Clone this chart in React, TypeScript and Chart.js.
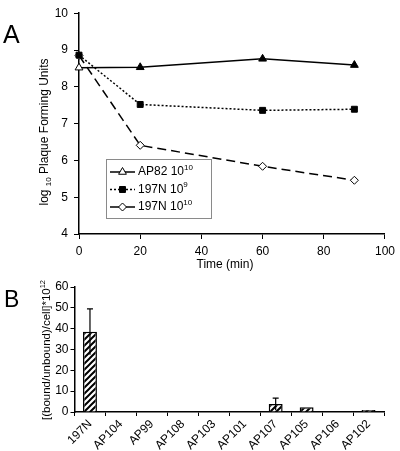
import React, { useEffect, useRef } from "react";
import { Chart, registerables } from "chart.js";
Chart.register(...registerables);

// ---- Panel A data ----
const times = [0, 20, 60, 90];
const ap82 = [8.52, 8.53, 8.76, 8.59];
const n197e9 = [8.86, 7.52, 7.36, 7.39];
const n197e10 = [8.85, 6.41, 5.84, 5.46];
const legendBase = ["AP82 10", "197N 10", "197N 10"];
const legendExp = ["10", "9", "10"];
const timeTicks = [0, 20, 40, 60, 80, 100];
const logTicks = [4, 5, 6, 7, 8, 9, 10];

// ---- Panel B data ----
const strains = ["197N", "AP104", "AP99", "AP108", "AP103", "AP101", "AP107", "AP105", "AP106", "AP102"];
const binding = [38.5, 0.2, 0.2, 0.2, 0.2, 0.3, 3.8, 2.3, 0.3, 1.0];
const bindingErr = [11, 0, 0, 0, 0, 0, 2.9, 0, 0, 0];
const bindingTicks = [0, 10, 20, 30, 40, 50, 60];

const FONT = "'Liberation Sans', Arial, sans-serif";

function drawPointMarker(ctx: CanvasRenderingContext2D, style: string, x: number, y: number, r: number, fill: string) {
  ctx.save();
  ctx.fillStyle = fill;
  ctx.strokeStyle = "#000";
  ctx.lineWidth = 1;
  ctx.beginPath();
  if (style === "triangle") {
    ctx.moveTo(x, y - r);
    ctx.lineTo(x + r * 0.866, y + r * 0.5);
    ctx.lineTo(x - r * 0.866, y + r * 0.5);
    ctx.closePath();
  } else if (style === "rect") {
    const s = r * Math.SQRT1_2;
    ctx.rect(x - s, y - s, 2 * s, 2 * s);
  } else {
    ctx.moveTo(x, y - r);
    ctx.lineTo(x + r, y);
    ctx.lineTo(x, y + r);
    ctx.lineTo(x - r, y);
    ctx.closePath();
  }
  ctx.fill();
  ctx.stroke();
  ctx.restore();
}

function makeHatch(): CanvasPattern | string {
  const n = 6;
  const c = document.createElement("canvas");
  c.width = n;
  c.height = n;
  const g = c.getContext("2d");
  if (!g) return "#fff";
  g.fillStyle = "#fff";
  g.fillRect(0, 0, n, n);
  g.strokeStyle = "#000";
  g.lineWidth = 2;
  g.beginPath();
  g.moveTo(-1, n + 1);
  g.lineTo(n + 1, -1);
  g.moveTo(-1, 1);
  g.lineTo(1, -1);
  g.moveTo(n - 1, n + 1);
  g.lineTo(n + 1, n - 1);
  g.stroke();
  const p = g.createPattern(c, "repeat");
  return p || "#fff";
}

const axisCommon = (min: number, max: number, step: number, tickLength: number, pad: number) => ({
  min,
  max,
  ticks: { stepSize: step, color: "#000", font: { family: FONT, size: 12 }, padding: pad },
  grid: { display: true, drawOnChartArea: false, drawTicks: true, tickLength, color: "#000", lineWidth: 1 },
  border: { display: true, color: "#000", width: 1.5 },
});

const A_HEIGHT = 285; // canvas height of panel A
const B_TOP = 274; // canvas offset of panel B

export default function App() {
  const topRef = useRef<HTMLCanvasElement | null>(null);
  const botRef = useRef<HTMLCanvasElement | null>(null);

  useEffect(() => {
    document.body.style.margin = "0";
    const charts: Chart[] = [];

    if (topRef.current) {
      const topPlugin = {
        id: "panelA",
        afterDraw(chart: any) {
          const ctx: CanvasRenderingContext2D = chart.ctx;
          ctx.save();
          ctx.fillStyle = "#000";
          ctx.font = `25px ${FONT}`;
          ctx.textBaseline = "alphabetic";
          ctx.textAlign = "left";
          ctx.fillText("A", 3, 43);
          ctx.font = `12px ${FONT}`;
          ctx.textAlign = "center";
          ctx.textBaseline = "middle";
          ctx.fillText("Time (min)", 225, 265);
          ctx.save();
          ctx.translate(48, 132);
          ctx.rotate(-Math.PI / 2);
          ctx.textAlign = "left";
          ctx.textBaseline = "alphabetic";
          ctx.font = `12px ${FONT}`;
          const p1 = "log ";
          const p3 = " Plaque Forming Units";
          const w1 = ctx.measureText(p1).width;
          const w3 = ctx.measureText(p3).width;
          ctx.font = `8px ${FONT}`;
          const w2 = ctx.measureText("10").width;
          const total = w1 + w2 + w3;
          let xx = -total / 2;
          ctx.font = `12px ${FONT}`;
          ctx.fillText(p1, xx, 0);
          xx += w1;
          ctx.font = `8px ${FONT}`;
          ctx.fillText("10", xx, 3);
          xx += w2;
          ctx.font = `12px ${FONT}`;
          ctx.fillText(p3, xx, 0);
          ctx.restore();

          const bx = 106, by = 159, bw = 105, bh = 59;
          ctx.fillStyle = "#fff";
          ctx.fillRect(bx, by, bw, bh);
          ctx.strokeStyle = "#8a8a8a";
          ctx.lineWidth = 1;
          ctx.strokeRect(bx + 0.5, by + 0.5, bw, bh);
          const rows = [172, 189.5, 207];
          const styles = ["triangle", "rect", "rectRot"];
          const fills = ["#fff", "#000", "#fff"];
          const dashes = [[], [2, 2], []];
          const radii = [4.5, 4.2, 4];
          rows.forEach((ry, i) => {
            ctx.save();
            ctx.strokeStyle = "#000";
            ctx.lineWidth = 1.5;
            ctx.setLineDash(dashes[i]);
            ctx.beginPath();
            ctx.moveTo(110, ry);
            ctx.lineTo(135, ry);
            ctx.stroke();
            ctx.restore();
            drawPointMarker(ctx, styles[i], 122.5, ry, radii[i], fills[i]);
            ctx.fillStyle = "#000";
            ctx.textAlign = "left";
            ctx.textBaseline = "middle";
            ctx.font = `12px ${FONT}`;
            ctx.fillText(legendBase[i], 138, ry);
            const wb = ctx.measureText(legendBase[i]).width;
            ctx.font = `8px ${FONT}`;
            ctx.fillText(legendExp[i], 138 + wb, ry - 4.5);
          });
          ctx.restore();
        },
      };

      const c1 = new Chart(topRef.current, {
        type: "line",
        data: {
          datasets: [
            {
              label: legendBase[0] + legendExp[0],
              data: times.map((t, i) => ({ x: t, y: ap82[i] })),
              borderColor: "#000",
              borderWidth: 1.5,
              pointStyle: "triangle",
              pointRadius: 4.5,
              pointBackgroundColor: ["#fff", "#000", "#000", "#000"],
              pointBorderColor: "#000",
              pointBorderWidth: 1,
              tension: 0,
              clip: false,
            },
            {
              label: legendBase[1] + legendExp[1],
              data: times.map((t, i) => ({ x: t, y: n197e9[i] })),
              borderColor: "#000",
              borderWidth: 1.5,
              borderDash: [2, 2],
              pointStyle: "rect",
              pointRadius: 4.2,
              pointBackgroundColor: "#000",
              pointBorderColor: "#000",
              pointBorderWidth: 1,
              tension: 0,
              clip: false,
            },
            {
              label: legendBase[2] + legendExp[2],
              data: times.map((t, i) => ({ x: t, y: n197e10[i] })),
              borderColor: "#000",
              borderWidth: 1.5,
              borderDash: [9, 5],
              pointStyle: "rectRot",
              pointRadius: 4,
              pointBackgroundColor: "#fff",
              pointBorderColor: "#000",
              pointBorderWidth: 1,
              tension: 0,
              clip: false,
            },
          ],
        } as any,
        options: {
          responsive: false,
          animation: false,
          layout: { padding: { top: 9, right: 14, left: 0, bottom: 0 } },
          plugins: { legend: { display: false }, tooltip: { enabled: false } },
          scales: {
            x: {
              type: "linear",
              ...axisCommon(timeTicks[0], timeTicks[timeTicks.length - 1], 20, 5, 5),
              afterFit: (s: any) => { s.height = 51; },
            },
            y: {
              type: "linear",
              ...axisCommon(logTicks[0], logTicks[logTicks.length - 1], 1, 5, 6),
              afterFit: (s: any) => { s.width = 79; },
            },
          },
        } as any,
        plugins: [topPlugin],
      });
      charts.push(c1);
    }

    if (botRef.current) {
      const botPlugin = {
        id: "panelB",
        afterDatasetsDraw(chart: any) {
          const ctx: CanvasRenderingContext2D = chart.ctx;
          const meta = chart.getDatasetMeta(0);
          const ys = chart.scales.y;
          ctx.save();
          ctx.strokeStyle = "#000";
          ctx.lineWidth = 1.2;
          bindingErr.forEach((e, i) => {
            if (!e) return;
            const x = meta.data[i].x;
            const yt = ys.getPixelForValue(binding[i] + e);
            const yb = ys.getPixelForValue(Math.max(0, binding[i] - e));
            ctx.beginPath();
            ctx.moveTo(x, yb);
            ctx.lineTo(x, yt);
            ctx.moveTo(x - 3, yt);
            ctx.lineTo(x + 3, yt);
            ctx.stroke();
          });
          ctx.restore();
        },
        afterDraw(chart: any) {
          const ctx: CanvasRenderingContext2D = chart.ctx;
          ctx.save();
          ctx.fillStyle = "#000";
          ctx.font = `23px ${FONT}`;
          ctx.textAlign = "left";
          ctx.textBaseline = "alphabetic";
          ctx.fillText("B", 4, 307 - B_TOP);
          ctx.save();
          ctx.translate(50, 350 - B_TOP);
          ctx.rotate(-Math.PI / 2);
          ctx.font = `11.5px ${FONT}`;
          const main = "[(bound/unbound)/cell]*10";
          const wm = ctx.measureText(main).width;
          ctx.font = `7.5px ${FONT}`;
          const ws = ctx.measureText("12").width;
          const x0 = -(wm + ws) / 2;
          ctx.font = `11.5px ${FONT}`;
          ctx.fillText(main, x0, 0);
          ctx.font = `7.5px ${FONT}`;
          ctx.fillText("12", x0 + wm, -5);
          ctx.restore();
          ctx.restore();
        },
      };

      const c2 = new Chart(botRef.current, {
        type: "bar",
        data: {
          labels: strains,
          datasets: [
            {
              label: "binding",
              data: binding,
              backgroundColor: makeHatch(),
              borderColor: "#000",
              borderWidth: 1.5,
              barPercentage: 0.45,
              categoryPercentage: 1,
            },
          ],
        } as any,
        options: {
          responsive: false,
          animation: false,
          layout: { padding: { top: 287 - B_TOP, right: 16, left: 0, bottom: 0 } },
          plugins: { legend: { display: false }, tooltip: { enabled: false } },
          scales: {
            x: {
              ticks: {
                color: "#000",
                font: { family: FONT, size: 12 },
                maxRotation: 45,
                minRotation: 45,
                autoSkip: false,
                padding: 1,
              },
              grid: { display: true, offset: true, drawOnChartArea: false, drawTicks: true, tickLength: 4, color: "#000", lineWidth: 1 },
              border: { display: true, color: "#000", width: 1.5 },
              afterFit: (s: any) => { s.height = 39; },
            },
            y: {
              ...axisCommon(bindingTicks[0], bindingTicks[bindingTicks.length - 1], 10, 4, 2),
              afterFit: (s: any) => { s.width = 74.5; },
            },
          },
        } as any,
        plugins: [botPlugin],
      });
      charts.push(c2);
    }

    return () => {
      charts.forEach((c) => c.destroy());
    };
  }, []);

  return (
    <div style={{ position: "absolute", left: 0, top: 0, width: 400, height: 451, background: "#fff" }}>
      <canvas ref={topRef} width={400} height={A_HEIGHT} style={{ position: "absolute", left: 0, top: 0, width: 400, height: A_HEIGHT }} />
      <canvas ref={botRef} width={400} height={451 - B_TOP} style={{ position: "absolute", left: 0, top: B_TOP, width: 400, height: 451 - B_TOP }} />
    </div>
  );
}
